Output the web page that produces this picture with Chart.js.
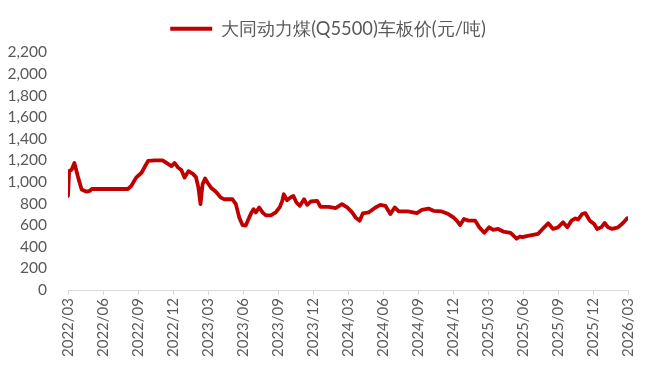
<!DOCTYPE html>
<html>
<head>
<meta charset="utf-8">
<script src="https://cdn.jsdelivr.net/npm/chart.js@4/dist/chart.umd.min.js"></script>
<style>
html,body{margin:0;padding:0;background:#fff;}
#wrap{width:649px;height:381px;}
</style>
</head>
<body>
<div id="wrap"><canvas id="c" width="649" height="381"></canvas></div>
<script>
const seriesName = '大同动力煤(Q5500)车板价(元/吨)';
const dates = [
'2022-03-01','2022-03-04','2022-03-11','2022-03-18','2022-03-28','2022-04-06','2022-04-19','2022-04-27','2022-05-02','2022-06-03','2022-07-01','2022-08-05',
'2022-08-14','2022-08-27','2022-09-10','2022-09-27','2022-10-14','2022-11-04','2022-11-14','2022-11-27','2022-12-05','2022-12-14','2022-12-23',
'2023-01-01','2023-01-11','2023-01-23','2023-01-31','2023-02-06','2023-02-11','2023-02-16','2023-02-22','2023-02-28','2023-03-09','2023-03-22',
'2023-04-04','2023-04-13','2023-05-04','2023-05-13','2023-05-22','2023-05-31','2023-06-08','2023-06-17','2023-06-23','2023-06-28','2023-07-04',
'2023-07-13','2023-07-22','2023-07-31','2023-08-13','2023-08-26','2023-09-06','2023-09-12','2023-09-16','2023-09-24','2023-10-04','2023-10-11',
'2023-10-19','2023-10-28','2023-11-08','2023-11-16','2023-11-25','2023-12-12','2023-12-21','2024-01-12','2024-01-30','2024-02-15','2024-02-28',
'2024-03-12','2024-03-21','2024-04-01','2024-04-09','2024-04-24','2024-05-12','2024-05-25','2024-06-07','2024-06-20','2024-07-01','2024-07-12',
'2024-08-05','2024-08-12','2024-08-29','2024-09-11','2024-09-28','2024-10-11','2024-11-02','2024-11-19','2024-12-02','2024-12-11','2024-12-20',
'2024-12-30','2025-01-11','2025-01-29','2025-02-08','2025-02-20','2025-03-04','2025-03-15','2025-03-28','2025-04-10','2025-04-29','2025-05-15',
'2025-05-24','2025-05-31','2025-06-10','2025-06-27','2025-07-10','2025-07-24','2025-08-06','2025-08-19','2025-09-01','2025-09-14','2025-09-25',
'2025-10-06','2025-10-16','2025-10-23','2025-11-03','2025-11-11','2025-11-23','2025-12-04','2025-12-12','2025-12-23','2026-01-01','2026-01-10',
'2026-01-21','2026-02-05','2026-02-17','2026-02-27'
];
const prices = [
870,1100,1115,1175,1040,930,910,917,935,935,935,935,
962,1040,1085,1195,1200,1200,1176,1146,1176,1135,1110,
1040,1100,1075,1045,947,795,978,1033,993,947,910,
855,840,840,795,672,600,596,672,718,748,718,
764,718,690,690,718,770,825,886,831,858,870,
810,779,840,788,819,825,770,770,758,795,764,
718,672,642,709,718,764,788,779,703,764,727,
727,724,712,742,754,733,727,703,672,642,602,
657,642,642,580,529,580,556,565,541,529,475,
495,490,498,510,520,571,617,565,580,626,580,
642,663,651,703,712,642,611,565,580,620,580,
565,580,620,663
];
const tickMonths = ['2022/03','2022/06','2022/09','2022/12','2023/03','2023/06','2023/09','2023/12','2024/03','2024/06','2024/09','2024/12','2025/03','2025/06','2025/09','2025/12','2026/03'];
const yTicks = [0,200,400,600,800,1000,1200,1400,1600,1800,2000,2200];

function monthPos(s){
  const p = s.split(/[-\/]/).map(Number);
  const y = p[0], m = p[1], d = p[2] || 1;
  const dim = new Date(y, m, 0).getDate();
  return (y-2022)*12 + (m-3) + (d-1)/dim;
}
const points = dates.map((d,i)=>({x: monthPos(d), y: prices[i]}));
const tickPos = tickMonths.map(t=>monthPos(t));
const labelAt = {};
tickMonths.forEach((t,i)=>{labelAt[Math.round(tickPos[i])] = t;});

const FONT = 'Lato, "Open Sans", sans-serif';
const GREY = '#595959';

const shiftLegend = {
  id: 'shiftLegend',
  beforeDraw(chart){
    const lg = chart.legend;
    if (lg && !lg._shifted){ lg.left += 13; lg.right += 13; lg._shifted = true; }
  }
};

new Chart(document.getElementById('c'), {
  type: 'line',
  data: {
    datasets: [{
      label: seriesName,
      data: points,
      borderColor: '#C00000',
      backgroundColor: '#C00000',
      borderWidth: 3.8,
      pointRadius: 0,
      tension: 0,
      borderJoinStyle: 'round',
      borderCapStyle: 'round'
    }]
  },
  plugins: [shiftLegend],
  options: {
    responsive: false,
    animation: false,
    layout: {padding: {left: 0, right: 19, top: 3, bottom: 0}},
    plugins: {
      tooltip: {enabled: false},
      subtitle: {
        display: true,
        text: '',
        weight: 500,
        font: {size: 1, lineHeight: 1},
        padding: {top: 1.5, bottom: 2}
      },
      legend: {
        display: true,
        position: 'top',
        labels: {
          color: GREY,
          font: {family: FONT, size: 18.3},
          boxWidth: 42,
          boxHeight: 0,
          padding: 16.5,
          generateLabels(chart){
            return [{text: seriesName, strokeStyle: '#C00000', fillStyle: '#C00000', lineWidth: 4, fontColor: GREY, datasetIndex: 0}];
          }
        }
      }
    },
    scales: {
      x: {
        type: 'linear',
        min: 0,
        max: 48,
        afterBuildTicks(scale){ scale.ticks = tickPos.map(v=>({value: v})); },
        afterFit(scale){ scale.height = 91; },
        ticks: {
          autoSkip: false,
          maxRotation: 90,
          minRotation: 90,
          padding: 3,
          color: GREY,
          font: {family: FONT, size: 15},
          callback(v){ return labelAt[Math.round(v)] || ''; }
        },
        grid: {display: true, drawOnChartArea: false, drawTicks: true, tickLength: 5, color: '#D9D9D9', lineWidth: 1},
        border: {display: true, color: '#D9D9D9', width: 1}
      },
      y: {
        min: 0,
        max: 2200,
        afterBuildTicks(scale){ scale.ticks = yTicks.map(v=>({value: v})); },
        afterFit(scale){ scale.width = 68; },
        ticks: {
          padding: 21,
          color: GREY,
          font: {family: FONT, size: 15.5},
          callback(v){ return Number(v).toLocaleString('en-US'); }
        },
        grid: {display: false, drawTicks: false},
        border: {display: false}
      }
    }
  }
});
</script>
</body>
</html>
